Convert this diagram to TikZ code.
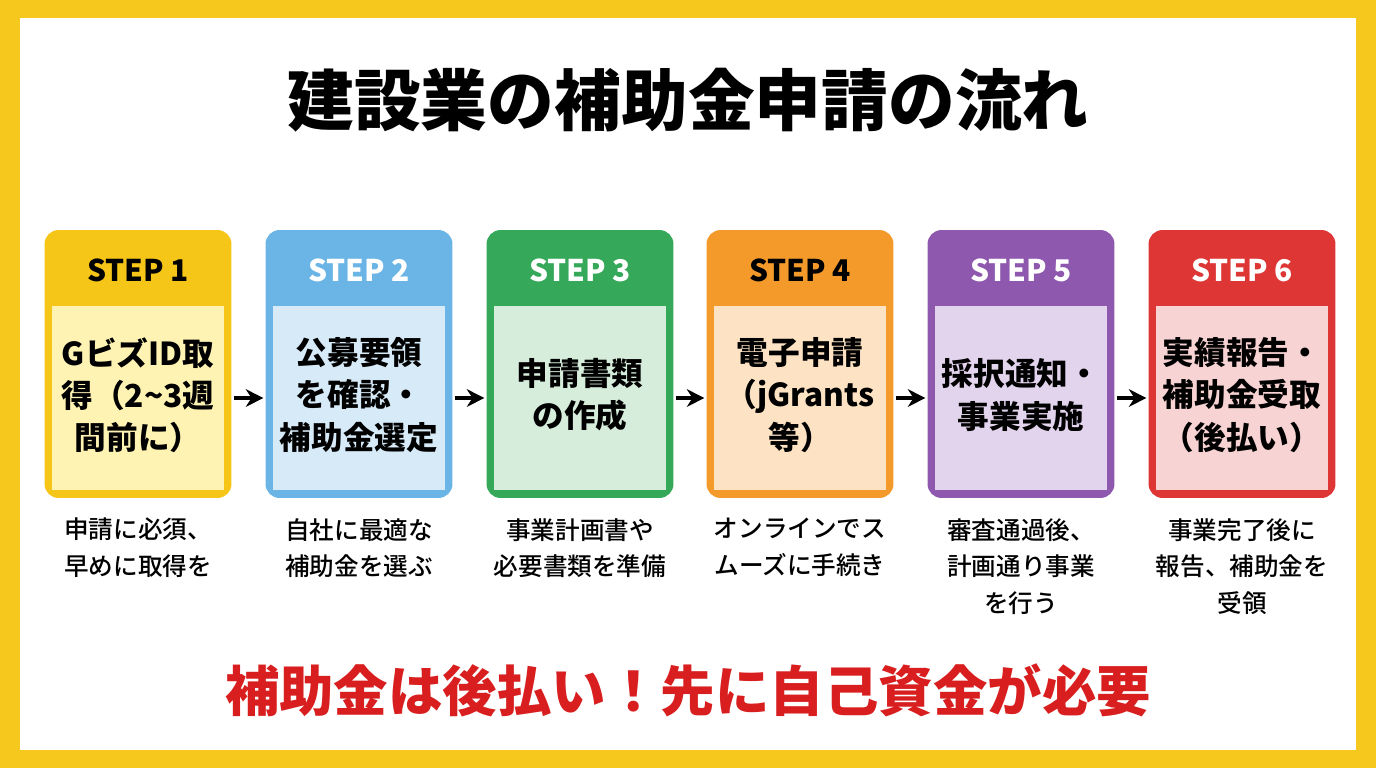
\documentclass[tikz,border=0pt]{standalone}
\usepackage{fontspec}
\setmainfont{Noto Sans CJK JP}
\newfontfamily\notefont{Noto Sans CJK JP Medium}
\usetikzlibrary{arrows.meta}
\definecolor{frameyel}{HTML}{F6C81E}
\definecolor{dk1}{HTML}{F5C518}\definecolor{lt1}{HTML}{FFF3B3}
\definecolor{dk2}{HTML}{6AB4E6}\definecolor{lt2}{HTML}{D7EAF8}
\definecolor{dk3}{HTML}{35A85A}\definecolor{lt3}{HTML}{D5EDDA}
\definecolor{dk4}{HTML}{F39A2B}\definecolor{lt4}{HTML}{FDE3C3}
\definecolor{dk5}{HTML}{8E58AE}\definecolor{lt5}{HTML}{E3D4EE}
\definecolor{dk6}{HTML}{DE3535}\definecolor{lt6}{HTML}{F8D3D3}
\definecolor{alertred}{HTML}{D81E1E}
\begin{document}
\begin{tikzpicture}[x=0.02cm, y=-0.02cm,
    box_style/.style={rounded corners=8pt, minimum width=3.74cm, minimum height=5.36cm, inner sep=0pt},
    inner_style/.style={minimum width=3.46cm, minimum height=3.7cm, inner sep=0pt},
    head_style/.style={font=\bfseries\fontsize{17}{20}\selectfont},
    body_style/.style={align=center, font=\bfseries\fontsize{18}{24}\selectfont},
    note_style/.style={align=center, font=\notefont\fontsize{14}{21}\selectfont},
    arrow_style/.style={-{Stealth[length=10pt,width=10pt]}, line width=2.2pt, shorten <=1pt, shorten >=1pt}]

  % background and frame
  \fill[frameyel] (0,0) rectangle (1376,768);
  \fill[white] (20,18) rectangle (1356,750);
  \useasboundingbox (0,0) rectangle (1376,768);

  \node[font=\bfseries\fontsize{38}{44}\selectfont] (title) at (688,100) {建設業の補助金申請の流れ};

  \foreach \i/\cx/\tc/\body/\note in {
      1/138/black/{GビズID取\\得（2\textasciitilde3週\\間前に）}/{申請に必須、\\早めに取得を},
      2/359/white/{公募要領\\を確認・\\補助金選定}/{自社に最適な\\補助金を選ぶ},
      3/580/white/{申請書類\\の作成}/{事業計画書や\\必要書類を準備},
      4/800/black/{電子申請\\（jGrants\\等）}/{オンラインでス\\ムーズに手続き},
      5/1021/white/{採択通知・\\事業実施}/{審査通過後、\\計画通り事業\\を行う},
      6/1242/white/{実績報告・\\補助金受取\\（後払い）}/{事業完了後に\\報告、補助金を\\受領}} {
    \node[box_style, fill=dk\i] (step\i) at (\cx,364) {};
    \node[inner_style, fill=lt\i] (in\i) at (\cx,398) {};
    \node[head_style, text=\tc] (head\i) at (\cx,270) {STEP \i};
    \node[body_style] (body\i) at (\cx,395) {\body};
    \node[note_style, anchor=north] (note\i) at (\cx,512) {\note};
  }

  \foreach \a/\b in {1/2,2/3,3/4,4/5,5/6}
    \draw[arrow_style] (step\a.east |- in\a.center) -- (step\b.west |- in\b.center);

  \node[text=alertred, font=\bfseries\fontsize{31}{36}\selectfont] (alert) at (688,690) {補助金は後払い！先に自己資金が必要};
\end{tikzpicture}
\end{document}
